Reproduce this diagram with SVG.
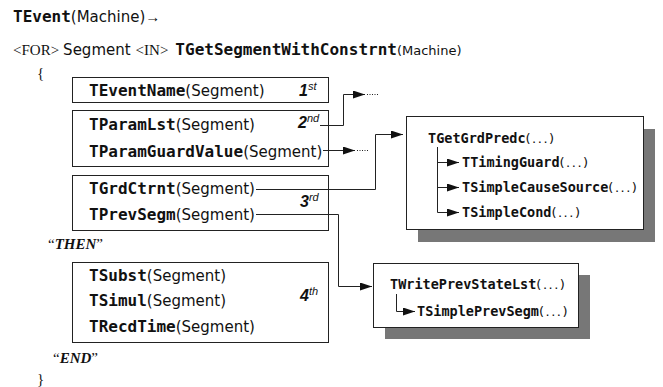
<svg xmlns="http://www.w3.org/2000/svg" width="663" height="387" viewBox="0 0 663 387">
<defs>
<style>
.b{font-family:"DejaVu Sans Mono",monospace;font-weight:bold;font-size:16px;fill:#111}
.r{font-family:"DejaVu Sans",sans-serif;font-size:15px;fill:#111}
.bs{font-family:"DejaVu Sans Mono",monospace;font-weight:bold;font-size:13.5px;fill:#111}
.rs{font-family:"DejaVu Sans",sans-serif;font-size:13px;letter-spacing:1.5px;fill:#111}
.sf{font-family:"Liberation Serif",serif;font-size:15px;fill:#111}
.sfbi{font-family:"Liberation Serif",serif;font-size:15px;font-weight:bold;font-style:italic;fill:#111}
.ord{font-family:"Liberation Sans",sans-serif;font-size:16px;font-weight:bold;font-style:italic;fill:#111}
.sup{font-family:"Liberation Sans",sans-serif;font-size:11px;font-style:italic;fill:#111}
.box{fill:#fff;stroke:#222;stroke-width:1}
.shadow{fill:#777;stroke:none}
.con{fill:none;stroke:#222;stroke-width:1}
.dots{stroke:#222;stroke-width:1;stroke-dasharray:1 1.5}
</style>
<marker id="ah" markerUnits="userSpaceOnUse" markerWidth="13" markerHeight="9" refX="12" refY="4" orient="auto">
<path d="M0,0 L12,4 L0,8 z" fill="#111"/>
</marker>
</defs>
<rect width="663" height="387" fill="#fff"/>

<g id="header">
<text x="13" y="22"><tspan class="b">TEvent</tspan><tspan class="r">(Machine)</tspan><tspan class="sf">→</tspan></text>
<text x="13" y="55"><tspan class="sf">&lt;FOR&gt;</tspan><tspan class="r" dx="4">Segment</tspan><tspan class="sf" dx="5">&lt;IN&gt;</tspan><tspan class="b" dx="7">TGetSegmentWithConstrnt</tspan><tspan class="r" style="font-size:13px">(Machine)</tspan></text>
<text class="sf" x="37" y="78">{</text>
<text class="sfbi" x="48" y="249"><tspan style="font-weight:normal;font-style:normal">“</tspan>THEN<tspan style="font-weight:normal;font-style:normal">”</tspan></text>
<text class="sfbi" x="53" y="363"><tspan style="font-weight:normal;font-style:normal">“</tspan>END<tspan style="font-weight:normal;font-style:normal">”</tspan></text>
<text class="sf" x="37" y="384">}</text>
</g>

<g id="box1">
<rect class="box" x="72.5" y="77.5" width="256" height="25"/>
<text x="89" y="96"><tspan class="b">TEventName</tspan><tspan class="r">(Segment)</tspan></text>
<text x="299" y="96"><tspan class="ord">1</tspan><tspan class="sup" dy="-6">st</tspan></text>
</g>

<g id="box2">
<rect class="box" x="72.5" y="110.5" width="256" height="56"/>
<text x="89" y="130"><tspan class="b">TParamLst</tspan><tspan class="r">(Segment)</tspan></text>
<text x="89" y="157"><tspan class="b">TParamGuardValue</tspan><tspan class="r">(Segment)</tspan></text>
<text x="298" y="128"><tspan class="ord">2</tspan><tspan class="sup" dy="-6">nd</tspan></text>
</g>

<g id="box3">
<rect class="box" x="72.5" y="175.5" width="256" height="55"/>
<text x="89" y="194"><tspan class="b">TGrdCtrnt</tspan><tspan class="r">(Segment)</tspan></text>
<text x="89" y="220"><tspan class="b">TPrevSegm</tspan><tspan class="r">(Segment)</tspan></text>
<text x="300" y="207"><tspan class="ord">3</tspan><tspan class="sup" dy="-6">rd</tspan></text>
</g>

<g id="box4">
<rect class="box" x="72.5" y="262.5" width="256" height="80"/>
<text x="89" y="281"><tspan class="b">TSubst</tspan><tspan class="r">(Segment)</tspan></text>
<text x="89" y="306"><tspan class="b">TSimul</tspan><tspan class="r">(Segment)</tspan></text>
<text x="89" y="332"><tspan class="b">TRecdTime</tspan><tspan class="r">(Segment)</tspan></text>
<text x="300" y="301"><tspan class="ord">4</tspan><tspan class="sup" dy="-6">th</tspan></text>
</g>

<g id="grdpredc">
<rect class="shadow" x="418" y="129" width="237" height="113"/>
<rect class="box" x="406.5" y="116.5" width="237" height="113"/>
<text x="428" y="143"><tspan class="bs">TGetGrdPredc</tspan><tspan class="rs">(...)</tspan></text>
<text x="462" y="167"><tspan class="bs">TTimingGuard</tspan><tspan class="rs">(...)</tspan></text>
<text x="462" y="192"><tspan class="bs">TSimpleCauseSource</tspan><tspan class="rs">(...)</tspan></text>
<text x="462" y="217"><tspan class="bs">TSimpleCond</tspan><tspan class="rs">(...)</tspan></text>
<path class="con" d="M437.5,147 V212.5"/>
<path class="con" d="M437.5,162.5 H459" marker-end="url(#ah)"/>
<path class="con" d="M437.5,187.5 H459" marker-end="url(#ah)"/>
<path class="con" d="M437.5,212.5 H459" marker-end="url(#ah)"/>
</g>

<g id="writeprev">
<rect class="shadow" x="385" y="275" width="205" height="64"/>
<rect class="box" x="373.5" y="263.5" width="205" height="64"/>
<text x="390" y="289"><tspan class="bs">TWritePrevStateLst</tspan><tspan class="rs">(...)</tspan></text>
<text x="417" y="316"><tspan class="bs">TSimplePrevSegm</tspan><tspan class="rs">(...)</tspan></text>
<path class="con" d="M396.5,294 V311.5 H415" marker-end="url(#ah)"/>
</g>

<g id="connectors">
<path class="con" d="M320,125.5 H343.5 V94.5 H365" marker-end="url(#ah)"/>
<line class="dots" x1="367" y1="94.5" x2="379" y2="94.5"/>
<path class="con" d="M323,150.5 H355" marker-end="url(#ah)"/>
<line class="dots" x1="357" y1="150.5" x2="369" y2="150.5"/>
<path class="con" d="M256,189.5 H375.5 V134.5 H403" marker-end="url(#ah)"/>
<path class="con" d="M256,214.5 H338.5 V286.5 H372" marker-end="url(#ah)"/>
</g>
</svg>
